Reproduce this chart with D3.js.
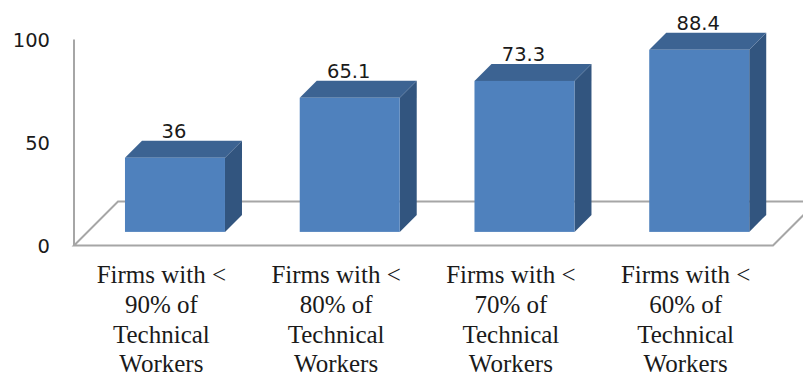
<!DOCTYPE html>
<html>
<head>
<meta charset="utf-8">
<script src="https://cdn.jsdelivr.net/npm/d3@7"></script>
<style>
  html, body { margin: 0; padding: 0; background: #ffffff; }
  svg { display: block; }
</style>
</head>
<body>
<svg id="chart" width="803" height="376"></svg>
<script>
// Share of firms (%) by technical-worker threshold
const categories = [
  ["Firms with <", "90% of", "Technical", "Workers"],
  ["Firms with <", "80% of", "Technical", "Workers"],
  ["Firms with <", "70% of", "Technical", "Workers"],
  ["Firms with <", "60% of", "Technical", "Workers"]
];
const values = [36, 65.1, 73.3, 88.4];
const valueLabels = ["36", "65.1", "73.3", "88.4"];
const yTicks = [0, 50, 100];

const svg = d3.select("#chart");

// Front plane of the 3D plot box
const x0 = 74, x1 = 773;
const yBase = 245.5;
const x = d3.scaleBand().domain(d3.range(categories.length)).range([x0, x1]).paddingInner(0).paddingOuter(0);
const y = d3.scaleLinear().domain([0, 100]).range([yBase, 39.5]);

// Oblique projection offsets
const floorDepth = 44;   // full depth of floor
const barOffset = 13.6;  // bar front sits this far back
const barDepth = 17;     // bar depth
const barWidth = 100;

const gridColor = "#a6a6a6";
const frontCol = "#4f81bd", topCol = "#3c6392", sideCol = "#32557f";

// Floor (parallelogram)
const floorPts = [
  [x0, yBase], [x1, yBase], [x1 + floorDepth, yBase - floorDepth], [x0 + floorDepth, yBase - floorDepth]
];
svg.append("path")
  .attr("d", d3.line()(floorPts) + "Z")
  .attr("fill", "none")
  .attr("stroke", gridColor)
  .attr("stroke-width", 2);

// Vertical axis line
svg.append("line")
  .attr("x1", x0).attr("x2", x0)
  .attr("y1", y(0)).attr("y2", y(100))
  .attr("stroke", gridColor).attr("stroke-width", 2);

// Tick labels
svg.append("g").selectAll("text")
  .data(yTicks).join("text")
  .attr("x", 50)
  .attr("y", d => y(d))
  .attr("dy", "0.36em")
  .attr("text-anchor", "end")
  .attr("font-family", "DejaVu Sans, sans-serif")
  .attr("font-size", 19.5)
  .attr("fill", "#1a1a1a")
  .text(d => d);

// Bars
const bars = svg.append("g").selectAll("g")
  .data(values).join("g");

bars.each(function(v, i) {
  const g = d3.select(this);
  const cx = x(i) + x.bandwidth() / 2 + barOffset;
  const left = cx - barWidth / 2, right = cx + barWidth / 2;
  const bottom = y(0) - barOffset, top = y(v) - barOffset;
  const d = barDepth;
  // side face
  g.append("path")
    .attr("d", d3.line()([[right, top], [right + d, top - d], [right + d, bottom - d], [right, bottom]]) + "Z")
    .attr("fill", sideCol);
  // top face
  g.append("path")
    .attr("d", d3.line()([[left, top], [left + d, top - d], [right + d, top - d], [right, top]]) + "Z")
    .attr("fill", topCol);
  // front face
  g.append("rect")
    .attr("x", left).attr("y", top)
    .attr("width", barWidth).attr("height", bottom - top)
    .attr("fill", frontCol);
  // value label
  g.append("text")
    .attr("x", cx - 1)
    .attr("y", top - d - 3)
    .attr("text-anchor", "middle")
    .attr("font-family", "DejaVu Sans, sans-serif")
    .attr("font-size", 19.5)
    .attr("fill", "#1a1a1a")
    .text(valueLabels[i]);
});

// Category labels
const catG = svg.append("g").selectAll("text")
  .data(categories).join("text")
  .attr("x", (d, i) => x(i) + x.bandwidth() / 2)
  .attr("y", 283)
  .attr("text-anchor", "middle")
  .attr("font-family", "Liberation Serif, Times New Roman, serif")
  .attr("font-size", 25)
  .attr("fill", "#1a1a1a");

catG.selectAll("tspan")
  .data(d => d).join("tspan")
  .attr("x", function() { return d3.select(this.parentNode).attr("x"); })
  .attr("dy", (d, j) => j === 0 ? 0 : 29.8)
  .text(d => d);
</script>
</body>
</html>
